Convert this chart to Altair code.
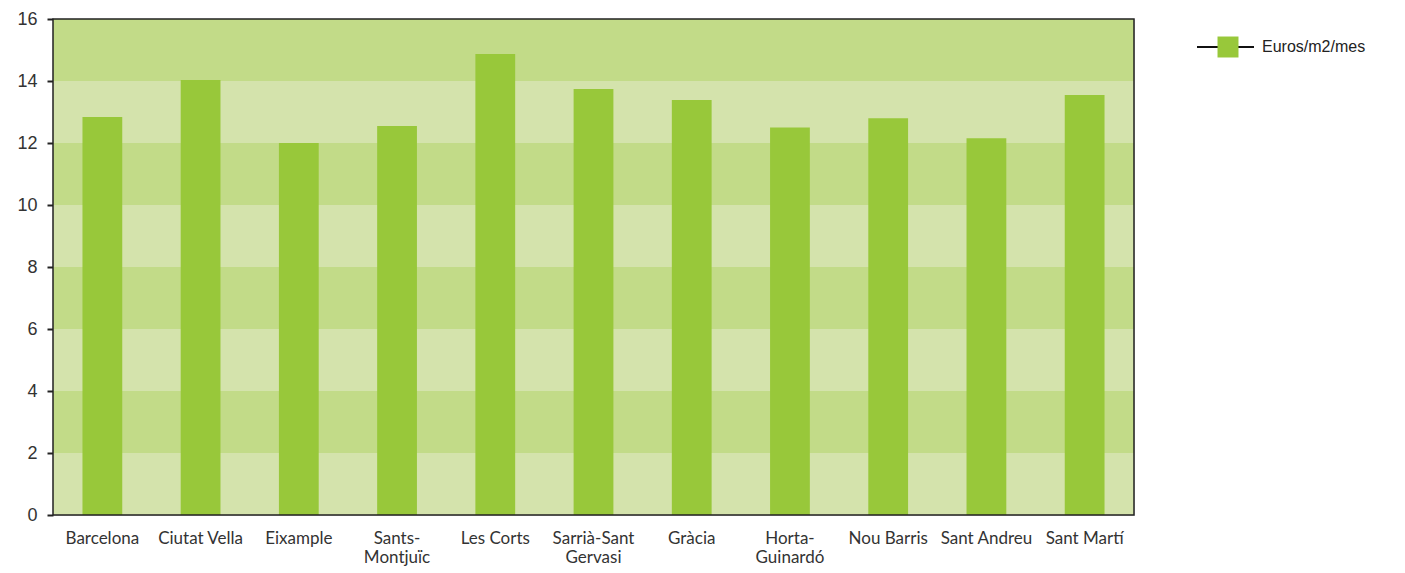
import altair as alt
import pandas as pd

districts = ["Barcelona", "Ciutat Vella", "Eixample", "Sants-|Montjuïc", "Les Corts",
             "Sarrià-Sant|Gervasi", "Gràcia", "Horta-|Guinardó", "Nou Barris",
             "Sant Andreu", "Sant Martí"]
values = [12.84, 14.03, 12.0, 12.55, 14.87, 13.74, 13.39, 12.5, 12.8, 12.15, 13.55]
band_starts = [0, 2, 4, 6, 8, 10, 12, 14]
band_colors = ["#d4e3ac", "#c2db88"]
series_name = "Euros/m2/mes"

W, H = 1081, 496

df = pd.DataFrame({"district": districts, "value": values})
bands = pd.DataFrame({
    "y0": band_starts,
    "y1": [b + 2 for b in band_starts],
    "c": [band_colors[i % 2] for i in range(len(band_starts))],
})

yscale = alt.Scale(domain=[0, 16], nice=False)
yaxis = alt.Axis(title=None, values=[0, 2, 4, 6, 8, 10, 12, 14, 16],
                 grid=False, domain=False, tickColor="#222222", tickSize=6,
                 tickWidth=2, labelFont="Liberation Sans", labelFontSize=18,
                 labelColor="#333333", labelPadding=10)

bg = alt.Chart(bands).mark_rect().encode(
    y=alt.Y("y0:Q", scale=yscale, axis=yaxis),
    y2="y1:Q",
    x=alt.value(0), x2=alt.value(W),
    color=alt.Color("c:N", scale=None),
)

bars = alt.Chart(df).mark_bar(color="#98c83a").encode(
    x=alt.X("district:N", sort=districts,
            scale=alt.Scale(paddingInner=0.595, paddingOuter=0.3),
            axis=alt.Axis(title=None, labelAngle=0, ticks=False, domain=False,
                          labelExpr="split(datum.label, '|')", labelFont="Lato",
                          labelFontSize=17, labelColor="#333333", labelPadding=15,
                          labelLineHeight=19)),
    y=alt.Y("value:Q", scale=yscale, axis=yaxis),
)

leg_df = pd.DataFrame({"label": [series_name]})
frame = alt.Chart(leg_df).mark_rect(fill=None, stroke="#222222", strokeWidth=1.5).encode(
    x=alt.value(0), x2=alt.value(W), y=alt.value(0), y2=alt.value(H))
leg_line = alt.Chart(leg_df).mark_rule(color="#111111", strokeWidth=2).encode(
    x=alt.value(W + 63), x2=alt.value(W + 120), y=alt.value(28))
leg_sq = alt.Chart(leg_df).mark_square(color="#98c83a", opacity=1, size=440).encode(
    x=alt.value(W + 94), y=alt.value(28))
leg_txt = alt.Chart(leg_df).mark_text(align="left", baseline="middle", fontSize=16,
                                      font="Liberation Sans", color="#222222").encode(
    x=alt.value(W + 128), y=alt.value(28), text="label:N")

chart = alt.layer(bg, bars, frame, leg_line, leg_sq, leg_txt).properties(
    width=W, height=H,
    autosize=alt.AutoSizeParams(type="none"),
    padding={"left": 45, "top": 11, "right": 263, "bottom": 58},
).configure_view(strokeWidth=0).configure(background="white")

chart.save("out.html", embed_options={"renderer": "svg", "actions": False})
